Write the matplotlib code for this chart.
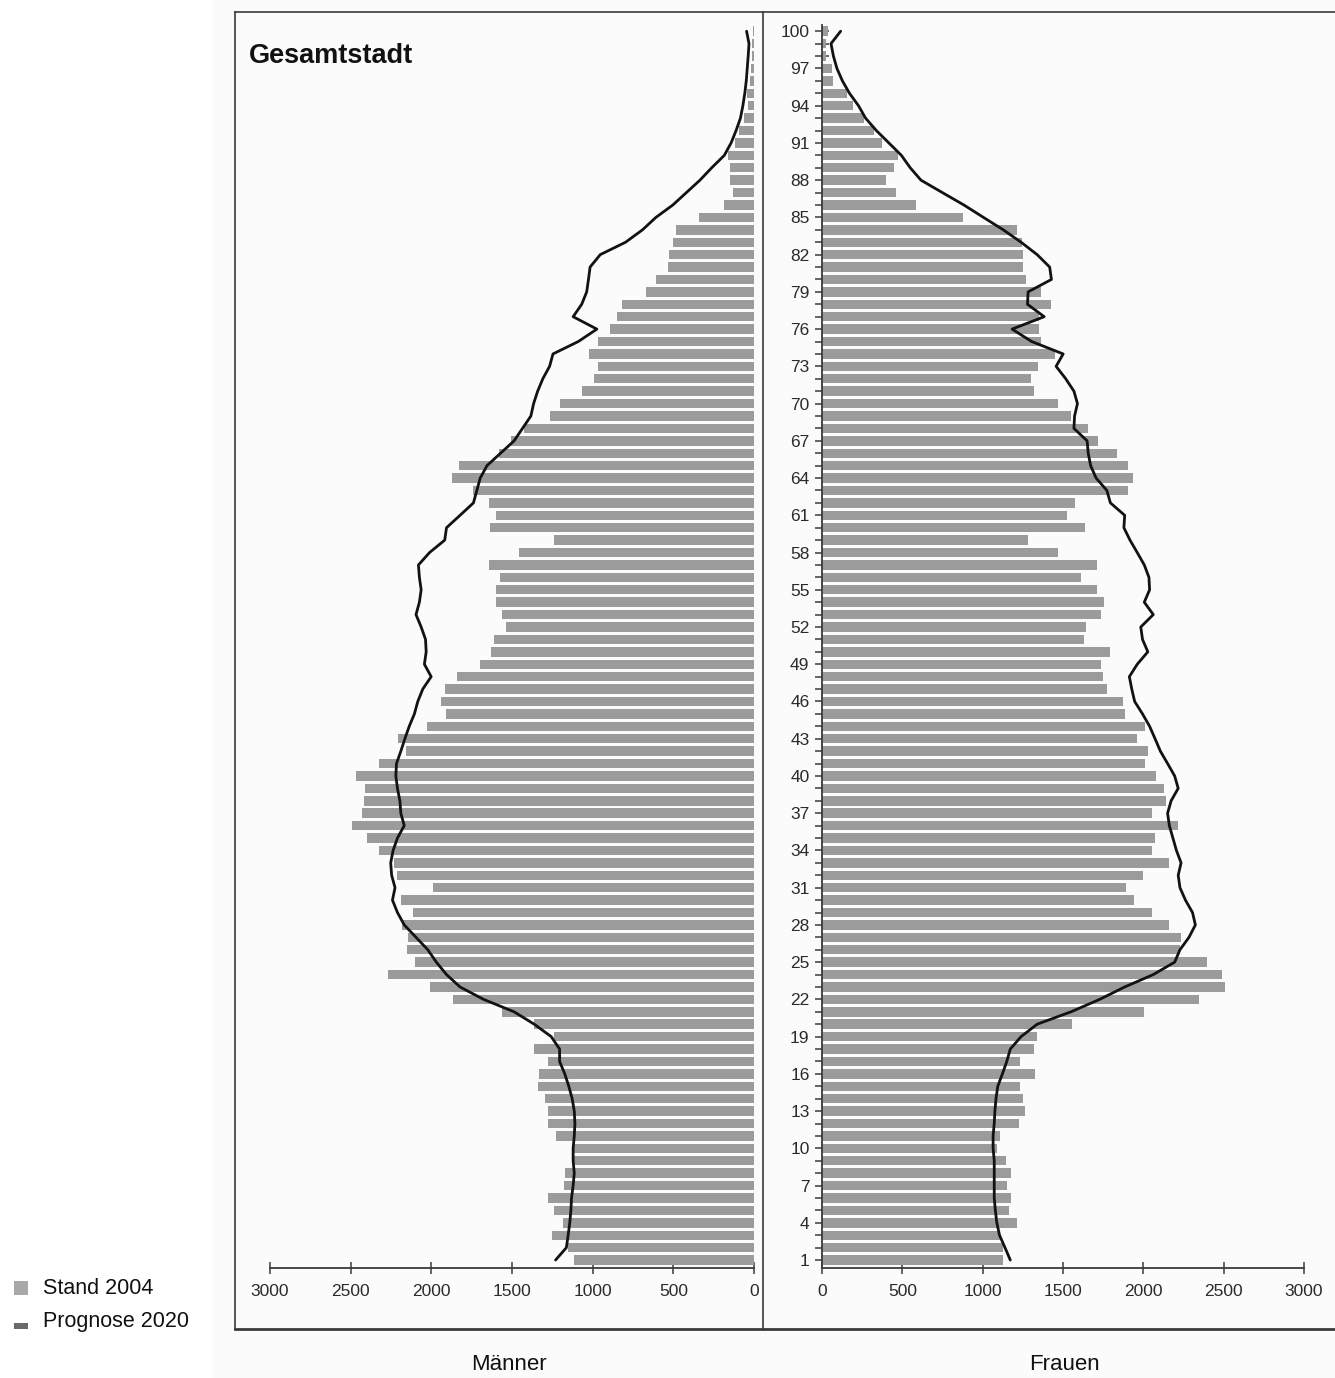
import matplotlib
matplotlib.use("Agg")
import matplotlib.pyplot as plt
from matplotlib.lines import Line2D
from matplotlib.patches import Rectangle

# ── Data: age 1..100, Stand 2004 (bars) and Prognose 2020 (lines) ─────────────
ages = list(range(1, 101))

men_2004 = [
    1114, 1152, 1253, 1184, 1240, 1278, 1177, 1173, 1125, 1121,
    1230, 1274, 1274, 1295, 1341, 1330, 1278, 1366, 1240, 1362,
    1561, 1864, 2011, 2267, 2099, 2151, 2147, 2183, 2116, 2189,
    1990, 2214, 2231, 2325, 2399, 2489, 2430, 2420, 2413, 2468,
    2325, 2158, 2206, 2026, 1906, 1938, 1917, 1844, 1701, 1628,
    1609, 1536, 1561, 1598, 1598, 1575, 1644, 1456, 1240, 1638,
    1598, 1644, 1739, 1869, 1827, 1582, 1508, 1425, 1267, 1205,
    1068, 989, 968, 1020, 968, 890, 848, 817, 670, 608,
    534, 528, 499, 482, 339, 189, 130, 151, 147, 163,
    115, 94, 63, 36, 42, 25, 20, 15, 10, 5,
]

men_2020 = [
    1230, 1163, 1152, 1142, 1135, 1131, 1121, 1114, 1121, 1121,
    1114, 1110, 1114, 1127, 1148, 1173, 1205, 1205, 1257, 1362,
    1487, 1676, 1822, 1906, 1969, 2022, 2095, 2168, 2210, 2241,
    2225, 2246, 2252, 2237, 2210, 2168, 2189, 2195, 2210, 2220,
    2216, 2189, 2164, 2137, 2105, 2084, 2053, 2001, 2043, 2032,
    2036, 2063, 2095, 2074, 2063, 2074, 2080, 2011, 1917, 1906,
    1822, 1739, 1718, 1697, 1655, 1571, 1487, 1435, 1383, 1366,
    1341, 1309, 1267, 1246, 1089, 974, 1121, 1068, 1037, 1026,
    1016, 953, 796, 691, 608, 503, 419, 335, 262, 184,
    142, 111, 84, 69, 57, 48, 42, 36, 31, 46,
]

women_2004 = [
    1128, 1128, 1110, 1212, 1161, 1179, 1150, 1179, 1145, 1088,
    1110, 1228, 1261, 1250, 1234, 1328, 1234, 1317, 1339, 1555,
    2002, 2346, 2506, 2489, 2395, 2228, 2233, 2162, 2057, 1939,
    1890, 1995, 2162, 2057, 2073, 2213, 2057, 2139, 2128, 2079,
    2013, 2028, 1962, 2013, 1888, 1873, 1773, 1746, 1739, 1790,
    1628, 1646, 1739, 1755, 1712, 1612, 1712, 1466, 1283, 1639,
    1523, 1572, 1902, 1935, 1906, 1839, 1717, 1655, 1550, 1466,
    1317, 1299, 1346, 1450, 1361, 1350, 1350, 1428, 1361, 1272,
    1254, 1254, 1243, 1212, 876, 587, 460, 400, 449, 471,
    371, 322, 260, 193, 156, 71, 60, 27, 25, 38,
]

women_2020 = [
    1172, 1139, 1105, 1088, 1079, 1072, 1072, 1072, 1072, 1065,
    1065, 1072, 1076, 1083, 1094, 1123, 1150, 1172, 1239, 1339,
    1550, 1728, 1884, 2062, 2195, 2228, 2284, 2324, 2306, 2262,
    2228, 2217, 2235, 2206, 2184, 2162, 2151, 2173, 2217, 2195,
    2151, 2106, 2073, 2039, 1995, 1946, 1928, 1913, 1962, 2028,
    1995, 1984, 2062, 2006, 2039, 2035, 2006, 1962, 1917, 1879,
    1884, 1795, 1773, 1706, 1672, 1657, 1650, 1568, 1572, 1590,
    1568, 1517, 1457, 1501, 1305, 1183, 1383, 1279, 1283, 1428,
    1417, 1339, 1239, 1128, 1005, 883, 749, 616, 549, 494,
    416, 338, 271, 227, 171, 127, 93, 71, 56, 116,
]

x_ticks = [0, 500, 1000, 1500, 2000, 2500, 3000]
age_ticks = ages
age_labels = [str(a) if (a - 1) % 3 == 0 else "" for a in ages]

BAR_GREY = "#9b9b9b"
LINE_COL = "#121212"
FRAME = "#3a3a3a"
TEXT_FONT = ["Liberation Sans", "DejaVu Sans"]

W, H = 1335, 1378


def fx(px):
    return px / W


def fy(py):
    return 1 - py / H


fig = plt.figure(figsize=(W / 100, H / 100), dpi=100)
fig.patch.set_facecolor("white")

# faint scan background behind the chart block
fig.add_artist(Rectangle((fx(212), 0), 1 - fx(212), 1, transform=fig.transFigure,
                         facecolor="#fbfbfb", edgecolor="none", zorder=-5))

ax_m = fig.add_axes([fx(270), fy(1268), fx(754) - fx(270), fy(25) - fy(1268)])
ax_f = fig.add_axes([fx(822), fy(1268), fx(1304) - fx(822), fy(25) - fy(1268)])

for ax, bars, line in ((ax_m, men_2004, men_2020), (ax_f, women_2004, women_2020)):
    ax.set_facecolor("none")
    ax.barh(ages, bars, height=0.76, color=BAR_GREY, linewidth=0, zorder=2)
    ax.plot(line, ages, color=LINE_COL, linewidth=2.0, solid_joinstyle="round",
            solid_capstyle="round", zorder=3)
    ax.set_ylim(0.36, 100.5)
    for s in ("top", "right", "left"):
        ax.spines[s].set_visible(False)
    ax.spines["bottom"].set_color(FRAME)
    ax.spines["bottom"].set_linewidth(1.3)
    ax.set_xticks(x_ticks)
    ax.set_xticklabels([str(v) for v in x_ticks], fontfamily=TEXT_FONT, fontsize=12.5,
                       color="#2a2a2a")
    ax.tick_params(axis="x", direction="inout", length=9, width=1.1, color=FRAME, pad=7)

ax_m.set_xlim(3000, 0)
ax_f.set_xlim(0, 3000)
ax_m.set_yticks([])

ax_f.spines["left"].set_visible(True)
ax_f.spines["left"].set_color(FRAME)
ax_f.spines["left"].set_linewidth(1.3)
ax_f.set_yticks(age_ticks)
ax_f.set_yticklabels(age_labels, fontfamily=TEXT_FONT, fontsize=12.5, color="#2a2a2a")
ax_f.tick_params(axis="y", direction="inout", length=10, width=1.1, color=FRAME, pad=4)

# ── Frame round the chart block ───────────────────────────────────────────────
def hline(x0, x1, y, lw=1.2, col=FRAME):
    fig.add_artist(Line2D([fx(x0), fx(x1)], [fy(y), fy(y)], transform=fig.transFigure,
                          color=col, linewidth=lw))


def vline(x, y0, y1, lw=1.2, col=FRAME):
    fig.add_artist(Line2D([fx(x), fx(x)], [fy(y0), fy(y1)], transform=fig.transFigure,
                          color=col, linewidth=lw))


hline(235, 1335, 12)
hline(235, 1335, 1329, lw=2.0)
vline(235, 12, 1329)
vline(763, 12, 1329)

# ── Texts ─────────────────────────────────────────────────────────────────────
fig.text(fx(249), fy(56), "Gesamtstadt", fontsize=19.5, fontweight="bold",
         fontfamily=TEXT_FONT, ha="left", va="center", color="#111111")
fig.text(fx(509), fy(1364), "Männer", fontsize=16, fontfamily=TEXT_FONT,
         ha="center", va="center", color="#111111")
fig.text(fx(1064), fy(1364), "Frauen", fontsize=16, fontfamily=TEXT_FONT,
         ha="center", va="center", color="#111111")

# ── Legend ────────────────────────────────────────────────────────────────────
fig.add_artist(Rectangle((fx(14), fy(1295)), fx(28) - fx(14), fy(1281) - fy(1295),
                         transform=fig.transFigure, facecolor="#a8a8a8", edgecolor="none"))
fig.add_artist(Rectangle((fx(14), fy(1329)), fx(28) - fx(14), fy(1323) - fy(1329),
                         transform=fig.transFigure, facecolor="#6a6a6a", edgecolor="none"))
fig.text(fx(43), fy(1288), "Stand 2004", fontsize=15.5, fontfamily=TEXT_FONT,
         ha="left", va="center", color="#111111")
fig.text(fx(43), fy(1322), "Prognose 2020", fontsize=15.5, fontfamily=TEXT_FONT,
         ha="left", va="center", color="#111111")

fig.savefig("out.png", dpi=100)
